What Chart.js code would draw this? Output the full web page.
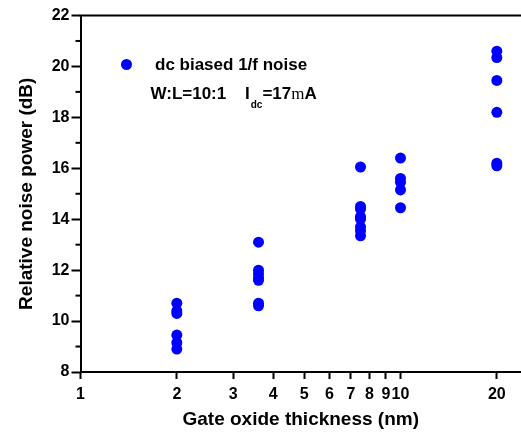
<!DOCTYPE html>
<html>
<head>
<meta charset="utf-8">
<script src="https://cdn.jsdelivr.net/npm/chart.js@4.4.0/dist/chart.umd.min.js"></script>
<style>body{margin:0;background:#fff}</style>
</head>
<body>
<canvas id="chart" width="521" height="437"></canvas>
<script>
const thicknessNm = [2, 3.6, 7.5, 10, 20];
const noiseAt2nm = [10.7, 10.4, 10.3, 9.45, 9.15, 8.9];
const noiseAt3p6nm = [13.1, 12.0, 11.85, 11.7, 11.6, 10.7, 10.6];
const noiseAt7p5nm = [16.05, 14.5, 14.4, 14.1, 14.0, 13.7, 13.55, 13.35];
const noiseAt10nm = [16.4, 15.6, 15.45, 15.15, 14.45];
const noiseAt20nm = [20.6, 20.35, 19.45, 18.2, 16.2, 16.1];
const xTickValues = [1, 2, 3, 4, 5, 6, 7, 8, 9, 10, 20];
const yMinorTicks = [9, 11, 13, 15, 17, 19, 21];

const FONT = '"Liberation Sans", Arial, sans-serif';

const points = [];
[noiseAt2nm, noiseAt3p6nm, noiseAt7p5nm, noiseAt10nm, noiseAt20nm].forEach((ys, i) => {
  ys.forEach((y) => points.push({x: thicknessNm[i], y}));
});

// top frame line, short minor ticks and the in-plot legend
const frameAndLegend = {
  id: 'frameAndLegend',
  afterDraw(chart) {
    const {ctx, chartArea, scales} = chart;
    ctx.save();
    ctx.strokeStyle = '#000';
    ctx.lineWidth = 2;
    ctx.beginPath();
    ctx.moveTo(chartArea.left - 1, chartArea.top);
    ctx.lineTo(chart.width, chartArea.top);
    ctx.stroke();
    yMinorTicks.forEach((v) => {
      const y = scales.y.getPixelForValue(v);
      ctx.beginPath();
      ctx.moveTo(chartArea.left - 5, y);
      ctx.lineTo(chartArea.left, y);
      ctx.stroke();
    });

    const lx = chartArea.left + 46;
    ctx.fillStyle = '#0000ff';
    ctx.beginPath();
    ctx.arc(lx, 64.5, 5.5, 0, Math.PI * 2);
    ctx.fill();

    ctx.fillStyle = '#000';
    ctx.textBaseline = 'alphabetic';
    ctx.font = `bold 17px ${FONT}`;
    ctx.fillText('dc biased 1/f noise', 155, 70);
    ctx.fillText('W:L=10:1', 150.5, 98.5);
    let x = 245;
    ctx.fillText('I', x, 98.5);
    x += ctx.measureText('I').width + 1;
    ctx.font = `bold 10px ${FONT}`;
    ctx.fillText('dc', x, 107.5);
    x += ctx.measureText('dc').width;
    ctx.font = `bold 17px ${FONT}`;
    ctx.fillText('=17', x, 98.5);
    x += ctx.measureText('=17').width;
    ctx.font = `17px "Liberation Serif", "Times New Roman", serif`;
    ctx.fillText('m', x, 98.5);
    x += ctx.measureText('m').width;
    ctx.font = `bold 17px ${FONT}`;
    ctx.fillText('A', x, 98.5);
    ctx.restore();
  }
};

const ctx = document.getElementById('chart').getContext('2d');
new Chart(ctx, {
  type: 'scatter',
  data: {
    datasets: [{
      label: 'dc biased 1/f noise',
      data: points,
      backgroundColor: '#0000ff',
      borderWidth: 0,
      pointRadius: 5.5,
      pointHoverRadius: 5.5
    }]
  },
  options: {
    responsive: false,
    animation: false,
    devicePixelRatio: 1,
    layout: {autoPadding: false, padding: {top: 15.5, right: 0, left: 0, bottom: 0}},
    plugins: {
      legend: {display: false},
      tooltip: {enabled: false}
    },
    scales: {
      x: {
        type: 'logarithmic',
        min: 1,
        max: 23.8,
        afterBuildTicks: (scale) => {
          scale.ticks = xTickValues.map((v) => ({value: v}));
        },
        afterFit: (scale) => {
          scale.height = 65;
          scale.paddingLeft = 0;
          scale.paddingRight = 0;
        },
        grid: {drawOnChartArea: false, color: '#000', tickLength: 7, tickWidth: 2},
        border: {color: '#000', width: 2},
        ticks: {
          autoSkip: false,
          maxRotation: 0,
          padding: 6,
          color: '#000',
          font: {family: FONT, size: 16, weight: 'bold'},
          callback: (v) => String(v)
        },
        title: {
          display: true,
          text: 'Gate oxide thickness (nm)',
          color: '#000',
          font: {family: FONT, size: 19, weight: 'bold'},
          padding: {top: 0, bottom: 5.5}
        }
      },
      y: {
        min: 8,
        max: 22,
        afterFit: (scale) => {
          scale.width = 80.5;
          scale.paddingTop = 0;
          scale.paddingBottom = 0;
        },
        grid: {drawOnChartArea: false, color: '#000', tickLength: 9, tickWidth: 2},
        border: {color: '#000', width: 2},
        ticks: {
          stepSize: 2,
          padding: 2,
          color: '#000',
          font: {family: FONT, size: 16, weight: 'bold'}
        },
        title: {
          display: true,
          text: 'Relative noise power (dB)',
          color: '#000',
          font: {family: FONT, size: 19, weight: 'bold'},
          padding: {top: 15.5, bottom: 0}
        }
      }
    }
  },
  plugins: [frameAndLegend]
});
</script>
</body>
</html>
